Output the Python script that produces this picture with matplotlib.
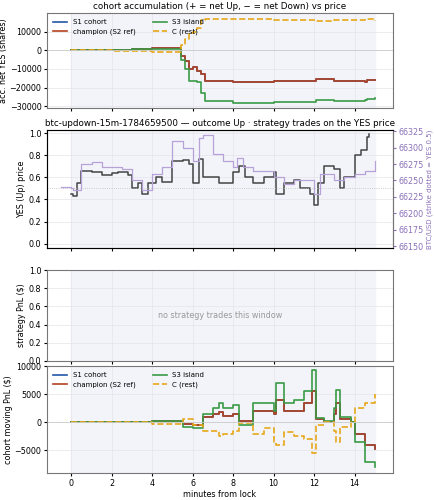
import matplotlib
matplotlib.use("Agg")
import matplotlib.pyplot as plt

# accumulation
acc_t = [0, 2, 3, 4, 5.2, 5.4, 5.6, 5.8, 6.0, 6.2, 6.4, 6.6, 8, 10, 11.9, 12.1, 13, 14.5, 14.6, 15]
acc_champ = [0, 300, 600, 1000, 1000, -3000, -6000, -10000, -9000, -11000, -13000, -16500, -17000, -16500, -16500, -15500, -16500, -17000, -16000, -16000]
acc_s1 = acc_champ
acc_s3 = [0, 300, 500, 800, 800, -5000, -10000, -16500, -16500, -17000, -23000, -27500, -28500, -28000, -28000, -26500, -27000, -26500, -26000, -25500]
acc_c = [0, -300, -600, -1000, -1000, 3000, 6000, 9000, 10000, 12000, 16000, 17000, 17000, 16500, 16500, 15500, 16500, 17000, 16800, 15500]

# price
yes_t = [0, 0.1, 0.3, 0.5, 1, 1.5, 2, 2.3, 2.8, 3.0, 3.3, 3.5, 3.8, 4.2, 4.5, 5.0, 5.5, 5.8, 6.0, 6.3, 6.5, 7, 7.3, 8, 8.3, 8.6, 9, 9.5, 10, 10.1, 10.5, 11, 11.3, 11.8, 12, 12.2, 12.5, 13, 13.3, 13.5, 14, 14.3, 14.6, 14.7]
yes_p = [0.45, 0.43, 0.55, 0.66, 0.65, 0.62, 0.64, 0.65, 0.62, 0.5, 0.55, 0.45, 0.55, 0.6, 0.56, 0.75, 0.76, 0.72, 0.55, 0.77, 0.6, 0.6, 0.55, 0.65, 0.7, 0.6, 0.55, 0.6, 0.65, 0.45, 0.55, 0.58, 0.5, 0.45, 0.35, 0.55, 0.70, 0.68, 0.5, 0.6, 0.8, 0.85, 0.97, 0.99]
btc_t = [-0.5, 0, 0.1, 0.5, 1, 1.5, 2, 2.5, 3, 3.5, 4, 4.5, 5, 5.5, 6, 6.3, 6.5, 7, 7.5, 8, 8.2, 8.5, 9, 10, 10.5, 11, 12, 12.3, 13, 13.5, 14, 14.5, 15]
btc_p = [66240, 66238, 66235, 66275, 66278, 66270, 66270, 66268, 66250, 66235, 66260, 66270, 66310, 66300, 66280, 66315, 66320, 66290, 66280, 66270, 66285, 66270, 66265, 66255, 66245, 66250, 66230, 66260, 66250, 66255, 66260, 66265, 66280]

# moving PnL
pnl_t = [0, 4, 5.2, 5.5, 6, 6.5, 7, 7.3, 7.5, 8, 8.3, 9, 9.5, 10, 10.1, 10.5, 11, 11.5, 11.9, 12.1, 12.5, 13, 13.1, 13.3, 13.8, 14, 14.5, 15]
pnl_champ = [0, 200, 300, -300, -500, 1000, 1500, 1800, 1200, 1500, 200, 2000, 2000, 1500, 4000, 2000, 2000, 3500, 5500, 500, 0, 1500, 3500, 500, 0, -2000, -4000, -4800]
pnl_s1 = pnl_champ
pnl_s3 = [0, 200, 300, -800, -1000, 1500, 2500, 3500, 2500, 3000, -500, 3500, 3500, 2000, 7000, 3500, 4000, 5500, 9300, 700, 300, 2500, 5700, 1000, 0, -3500, -7000, -8000]
pnl_c = [0, -300, -300, 500, -500, -1500, -1500, -2500, -2000, -1500, -200, -2000, -1000, -3500, -4000, -1800, -2500, -3000, -5500, -500, 0, -1500, -3500, -800, 0, 2500, 3500, 5000]

C_S1, C_CH, C_S3, C_C = "#2156a8", "#b5421f", "#3a9a45", "#e6a817"
BG = "#f3f4fa"
FS = 5.8

fig = plt.figure(figsize=(4.34, 5.0), dpi=100)
W = 434; H = 500
def ax_at(x0, y0, x1, y1):
    return fig.add_axes([x0 / W, 1 - y1 / H, (x1 - x0) / W, (y1 - y0) / H])

ax1 = ax_at(47, 13, 393, 108)
ax2 = ax_at(47, 130, 393, 248)
ax3 = ax_at(47, 270, 393, 361)
ax4 = ax_at(47, 366, 393, 473)

for ax in (ax1, ax2, ax3, ax4):
    ax.set_xlim(-1.2, 15.9)
    ax.axvspan(0, 15, color=BG, zorder=0)
    ax.set_xticks(range(0, 15, 2))
    ax.grid(True, color="#e4e4ea", lw=0.5)
    ax.tick_params(labelsize=FS, length=2.5, pad=1.5)
    for s in ax.spines.values():
        s.set_color("#777777")
for ax in (ax1, ax2, ax3):
    ax.tick_params(labelbottom=False)

def legend(ax):
    ax.legend(loc="upper left", ncol=2, fontsize=5, frameon=False, handlelength=2, columnspacing=2.5)

for ax, t, s1, ch, s3, c in ((ax1, acc_t, acc_s1, acc_champ, acc_s3, acc_c),
                             (ax4, pnl_t, pnl_s1, pnl_champ, pnl_s3, pnl_c)):
    ax.step(t, s1, where="post", color=C_S1, lw=1.2, label="S1 cohort")
    ax.step(t, ch, where="post", color=C_CH, lw=1.2, label="champion (S2 ref)")
    ax.step(t, s3, where="post", color=C_S3, lw=1.2, label="S3 island")
    ax.step(t, c, where="post", color=C_C, lw=1.2, ls="--", label="C (rest)")
    ax.axhline(0, color="#cccccc", lw=0.6)
    legend(ax)

ax1.set_ylim(-31000, 20000)
ax1.set_yticks([-30000, -20000, -10000, 0, 10000])
ax1.set_ylabel("acc. net YES (shares)", fontsize=FS, labelpad=1)
ax1.set_title("cohort accumulation (+ = net Up, − = net Down) vs price", fontsize=6.3, pad=3)

ax2.step(yes_t, yes_p, where="post", color="#444444", lw=1.1)
ax2.axhline(0.5, color="#bbbbbb", lw=0.6, ls=":")
ax2.set_ylim(-0.04, 1.03)
ax2.set_yticks([0, 0.2, 0.4, 0.6, 0.8, 1.0])
ax2.set_yticklabels(["0.0", "0.2", "0.4", "0.6", "0.8", "1.0"])
ax2.set_ylabel("YES (Up) price", fontsize=FS, labelpad=2)
ax2.set_title("btc-updown-15m-1784659500 — outcome Up · strategy trades on the YES price", fontsize=6.3, pad=3)
ax2b = ax2.twinx()
ax2b.step(btc_t, btc_p, where="post", color="#b6a2d6", lw=0.9)
ax2b.set_ylim(66147, 66327)
ax2b.set_yticks(range(66150, 66326, 25))
ax2b.tick_params(labelsize=FS, colors="#8a70b8", length=2.5, pad=1.5)
ax2b.set_ylabel("BTC/USD (strike dotted = YES 0.5)", fontsize=5, color="#8a70b8", labelpad=2)
ax2b.spines["right"].set_color("#777777")

ax3.set_ylim(0, 1)
ax3.set_yticks([0, 0.2, 0.4, 0.6, 0.8, 1.0])
ax3.set_yticklabels(["0.0", "0.2", "0.4", "0.6", "0.8", "1.0"])
ax3.set_ylabel("strategy PnL ($)", fontsize=FS, labelpad=2)
ax3.text(0.5, 0.5, "no strategy trades this window", transform=ax3.transAxes,
         ha="center", va="center", fontsize=FS, color="#999999")

ax4.set_ylim(-9000, 10000)
ax4.set_yticks([-5000, 0, 5000, 10000])
ax4.set_ylabel("cohort moving PnL ($)", fontsize=FS, labelpad=1)
ax4.set_xlabel("minutes from lock", fontsize=FS, labelpad=2)

fig.savefig("out.png", dpi=100)
